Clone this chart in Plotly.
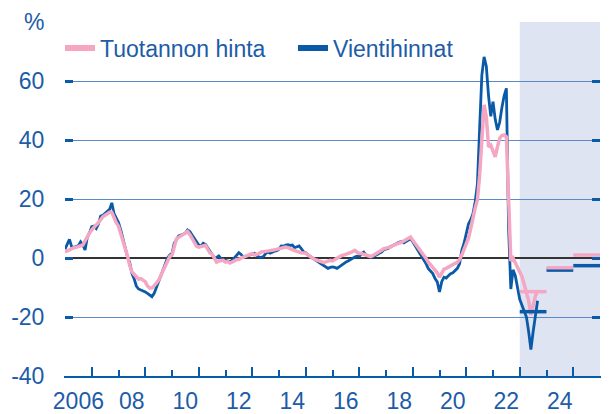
import plotly.graph_objects as go

# ---------------- data ----------------
start_year = 2006
# Vientihinnat (export prices), % y/y, monthly from Jan 2006
vienti = {
    2006: [3.0, 4.5, 6.3, 3.8, 3.6, 3.9, 4.2, 5.5, 4.5, 2.7, 7.0, 8.6],
    2007: [10.6, 10.8, 10.0, 11.5, 14.2, 14.5, 15.2, 15.6, 16.5, 18.7, 15.0, 13.5],
    2008: [12.0, 9.5, 6.5, 3.3, 0.5, -1.5, -5.2, -7.0, -9.5, -10.5, -10.8, -11.2],
    2009: [-11.5, -12.0, -12.5, -13.1, -12.0, -10.0, -7.5, -6.0, -4.0, -2.0, 0.0, 1.0],
    2010: [1.6, 5.0, 6.5, 7.5, 7.8, 8.0, 8.4, 9.5, 9.0, 7.8, 6.5, 5.5],
    2011: [4.4, 4.0, 5.0, 4.6, 3.5, 2.1, 1.0, 0.0, 0.2, 0.7, -0.2, -0.7],
    2012: [-0.8, -1.0, -1.2, -0.8, 0.0, 1.0, 1.8, 1.2, 0.3, 0.5, 0.7, 1.0],
    2013: [1.3, 1.6, 1.0, 0.3, 0.2, 0.5, 1.5, 2.0, 1.6, 2.0, 2.3, 2.5],
    2014: [3.0, 4.1, 4.0, 4.4, 4.5, 4.3, 4.4, 3.5, 3.8, 4.1, 3.2, 2.1],
    2015: [1.8, 1.0, 0.5, 0.0, -0.5, -0.8, -1.4, -1.8, -2.4, -2.8, -3.5, -3.2],
    2016: [-3.0, -3.2, -3.5, -3.0, -2.4, -2.0, -1.4, -1.0, -0.5, -0.3, 0.3, 0.6],
    2017: [0.5, 1.5, 2.0, 1.0, 0.8, 0.5, 0.3, 0.8, 1.2, 1.5, 2.0, 2.8],
    2018: [3.0, 3.2, 3.8, 4.3, 4.8, 5.0, 5.4, 5.5, 5.1, 5.5, 6.0, 6.5],
    2019: [5.5, 4.3, 3.0, 2.0, 0.5, -0.8, -2.0, -3.6, -4.5, -5.3, -7.0, -8.1],
    2020: [-11.5, -8.0, -6.5, -6.8, -6.0, -5.3, -5.0, -4.2, -3.5, -2.0, 2.6, 5.0],
    2021: [8.9, 11.5, 13.0, 15.0, 19.0, 25.0, 44.0, 62.0, 68.2, 65.0, 55.0, 48.0],
    2022: [53.0, 47.0, 43.4, 46.0, 51.0, 55.0, 57.5, 10.0, -10.5, -4.0, -6.0, -10.0],
    2023: [-14.0, -16.0, -18.0, -20.0, -25.0, -31.0, -25.0, -19.0, -14.5],
}
# Tuotannon hinta (producer prices), % y/y, monthly from Jan 2006
tuotanto = {
    2006: [2.1, 2.5, 3.0, 3.2, 3.5, 3.6, 3.8, 4.2, 4.4, 5.8, 7.5, 8.5],
    2007: [9.5, 10.5, 11.2, 12.0, 13.0, 14.0, 14.5, 15.0, 15.5, 15.5, 13.5, 12.0],
    2008: [10.8, 8.5, 5.6, 3.5, 0.8, -2.5, -4.7, -5.5, -6.3, -7.2, -7.0, -7.5],
    2009: [-8.0, -9.5, -10.2, -10.2, -9.5, -8.5, -7.5, -6.0, -4.2, -2.5, -1.0, 0.5],
    2010: [1.0, 3.5, 6.5, 7.0, 7.5, 8.0, 8.5, 9.0, 8.0, 6.5, 5.0, 4.0],
    2011: [3.7, 3.8, 4.0, 4.3, 3.0, 1.8, 1.3, 0.0, -1.4, -1.0, -0.8, -0.8],
    2012: [-1.4, -1.2, -1.7, -1.5, -1.0, -0.5, -0.5, 0.0, 0.3, 0.8, 1.2, 1.5],
    2013: [1.5, 1.0, 1.2, 1.5, 2.0, 2.2, 2.4, 2.6, 2.5, 2.6, 2.8, 3.0],
    2014: [3.2, 3.3, 3.5, 3.7, 3.5, 3.0, 2.8, 2.5, 2.2, 2.0, 1.8, 1.7],
    2015: [1.7, 1.0, 0.3, 0.0, -0.5, -0.8, -1.2, -1.5, -1.5, -1.3, -1.0, -0.8],
    2016: [-1.0, -0.5, -0.2, 0.3, 0.8, 1.0, 1.2, 1.5, 1.8, 2.2, 2.6, 2.0],
    2017: [1.5, 1.5, 1.2, 1.0, 0.8, 0.5, 0.8, 1.2, 1.5, 2.0, 2.6, 3.2],
    2018: [3.3, 3.5, 3.7, 4.2, 4.6, 5.0, 5.1, 5.3, 5.8, 6.2, 6.8, 7.1],
    2019: [6.0, 5.0, 4.0, 3.2, 2.0, 0.9, -0.2, -1.4, -2.2, -3.0, -4.0, -5.0],
    2020: [-6.5, -5.0, -3.8, -3.5, -3.0, -2.5, -2.0, -1.8, -1.5, -0.5, 1.0, 2.7],
    2021: [5.0, 6.7, 10.0, 14.0, 17.0, 19.7, 28.0, 40.0, 51.9, 47.9, 37.7, 38.3],
    2022: [36.0, 34.3, 37.7, 40.6, 41.5, 41.7, 41.1, 16.0, -1.0, 0.0, -1.5, -3.5],
    2023: [-5.0, -6.3, -9.0, -12.0, -14.5, -19.3, -16.0, -13.0, -11.0],
}
# annual forecasts
forecast_years = [2023, 2024, 2025]
forecast_tuotanto = [-11.4, -3.3, 1.0]
forecast_vienti = [-18.2, -4.1, -2.6]
forecast_start = 2023
x_end = 2026

label_years = [2006, 2008, 2010, 2012, 2014, 2016, 2018, 2020, 2022, 2024]
label_text = ["2006", "08", "10", "12", "14", "16", "18", "20", "22", "24"]
y_ticks = [-40, -20, 0, 20, 40, 60, 80]
y_text = ["-40", "-20", "0", "20", "40", "60", "%"]

# ---------------- styling ----------------
BLUE = "#0b5aa8"
PINK = "#f4a6c2"
TEXT = "#1c5ca8"
GRID = "#5a8bc8"
SHADE = "#dfe4f2"
FONT = "Liberation Sans, Arial, sans-serif"
FS = 23


def monthly(series):
    xs, ys = [], []
    for yr, vals in series.items():
        for m, v in enumerate(vals):
            xs.append(yr + m / 12)
            ys.append(v)
    return xs, ys


def steps(years, vals):
    xs, ys = [], []
    for yr, v in zip(years, vals):
        xs += [yr, yr + 1, None]
        ys += [v, v, None]
    return xs, ys


fig = go.Figure()

bx, by = monthly(vienti)
px_, py_ = monthly(tuotanto)
fbx, fby = steps(forecast_years, forecast_vienti)
fpx, fpy = steps(forecast_years, forecast_tuotanto)

fig.add_trace(go.Scatter(x=bx, y=by, mode="lines", line=dict(color=BLUE, width=2.8),
                         showlegend=False, hoverinfo="skip"))
fig.add_trace(go.Scatter(x=px_, y=py_, mode="lines", line=dict(color=PINK, width=3.5),
                         showlegend=False, hoverinfo="skip"))
fig.add_trace(go.Scatter(x=fbx, y=fby, mode="lines", line=dict(color=BLUE, width=3.5),
                         showlegend=False, hoverinfo="skip"))
fig.add_trace(go.Scatter(x=fpx, y=fpy, mode="lines", line=dict(color=PINK, width=3.5),
                         showlegend=False, hoverinfo="skip"))
# legend entries
fig.add_trace(go.Scatter(x=[None], y=[None], mode="lines", name="Tuotannon hinta",
                         line=dict(color=PINK, width=6)))
fig.add_trace(go.Scatter(x=[None], y=[None], mode="lines", name="Vientihinnat",
                         line=dict(color=BLUE, width=6)))

fig.add_shape(type="rect", xref="x", yref="paper", x0=forecast_start, x1=x_end, y0=0, y1=1,
              fillcolor=SHADE, line=dict(width=0), layer="below")

fig.update_layout(
    width=609, height=414,
    margin=dict(l=65, r=9, t=22, b=38, autoexpand=False),
    paper_bgcolor="white", plot_bgcolor="white",
    font=dict(family=FONT, size=FS, color=TEXT),
    showlegend=True,
    legend=dict(orientation="h", xref="container", x=60 / 609, xanchor="left",
                yref="container", y=1 - 48 / 414, yanchor="middle",
                bgcolor="rgba(0,0,0,0)",
                font=dict(size=FS, color=TEXT), entrywidth=188, itemwidth=30,
                tracegroupgap=0),
    xaxis=dict(
        range=[start_year, x_end], showgrid=False, zeroline=False, automargin=False,
        showline=True, linecolor=BLUE, linewidth=2,
        tickmode="array", tickvals=list(range(2007, x_end, 2)),
        ticks="inside", ticklen=9, tickwidth=1.5, tickcolor=BLUE,
        showticklabels=False,
        minor=dict(tickmode="array", tickvals=list(range(2008, x_end, 2)),
                   ticks="inside", ticklen=6, tickwidth=1.5, tickcolor=BLUE),
    ),
    xaxis2=dict(
        range=[start_year, x_end], overlaying="x", side="bottom", automargin=False,
        showgrid=False, zeroline=False, showline=False,
        tickmode="array", tickvals=[y + 0.5 for y in label_years], ticktext=label_text,
        ticks="", ticklabelstandoff=9,
        tickfont=dict(size=FS, color=TEXT),
    ),
    yaxis=dict(
        range=[-40, 80], tickmode="array", tickvals=y_ticks, ticktext=y_text,
        automargin=False,
        showgrid=True, gridcolor=GRID, gridwidth=1,
        zeroline=True, zerolinecolor="#333333", zerolinewidth=2,
        ticks="inside", ticklen=8, tickwidth=2.5, tickcolor=BLUE,
        showline=True, linecolor="rgba(0,0,0,0)", mirror="ticks",
        ticklabelstandoff=15,
        tickfont=dict(size=FS, color=TEXT),
    ),
)

# dummy trace to keep xaxis2 rendered
fig.add_trace(go.Scatter(x=[None], y=[None], xaxis="x2", showlegend=False, hoverinfo="skip"))

fig.write_html("out.html", config={"displayModeBar": False},
               post_script="document.body.style.margin='0px';document.body.style.overflow='hidden';")
